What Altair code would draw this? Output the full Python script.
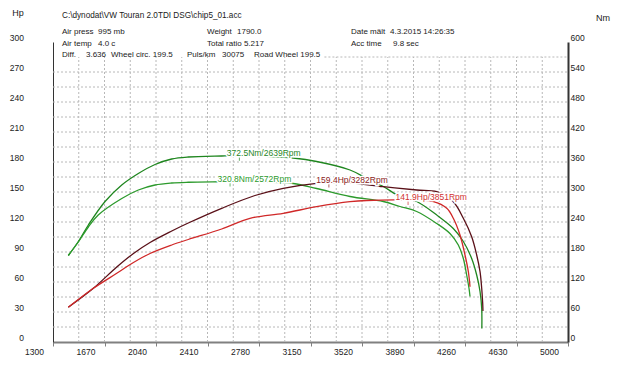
import altair as alt
import pandas as pd

# ---------------- data ----------------
# torque, run A (peak 372.5 Nm @ 2639 rpm)
rpm_tq_a = [1410, 1482, 1554, 1674, 1794, 1913, 2033, 2153, 2272, 2512, 2639, 2859, 3026,
            3194, 3434, 3554, 3673, 3793, 3913, 4057, 4176, 4248, 4308, 4344, 4368, 4380, 4381]
nm_tq_a = [173, 201, 234, 281, 314, 337, 355, 366, 370, 372, 372.5, 371, 368,
           361, 344, 327, 311, 291, 281, 254, 227, 201, 167, 134, 101, 67, 27]

# torque, run B (peak 320.8 Nm @ 2572 rpm)
rpm_tq_b = [1410, 1482, 1554, 1625, 1794, 1913, 2033, 2153, 2272, 2512, 2572, 2715, 3026,
            3194, 3434, 3673, 3793, 3913, 4057, 4152, 4212, 4248, 4272, 4289, 4296]
nm_tq_b = [173, 200, 230, 254, 287, 304, 314, 318, 319.5, 320.5, 320.8, 320, 317,
           307, 291, 281, 271, 261, 237, 217, 194, 167, 134, 107, 91]

# power, run A (peak 159.4 Hp @ 3282 rpm)
rpm_hp_a = [1410, 1590, 1758, 1878, 1997, 2153, 2272, 2512, 2751, 2954, 3194, 3282, 3434,
            3673, 3913, 4057, 4176, 4248, 4308, 4344, 4368, 4380, 4387, 4389]
hp_hp_a = [34.7, 53.7, 75, 88.5, 99.5, 111, 119, 133.7, 146.5, 153.7, 158.7, 159.4, 159.2,
           155.3, 152, 150.3, 140.3, 123.7, 105.3, 87, 70.3, 53.7, 39, 31]

# power, run B (peak 141.9 Hp @ 3851 rpm)
rpm_hp_b = [1410, 1590, 1758, 1878, 1997, 2153, 2272, 2512, 2715, 2954, 3194, 3434, 3554,
            3851, 4033, 4129, 4176, 4224, 4260, 4284, 4296]
hp_hp_b = [34.7, 53.7, 68.7, 79.5, 88.5, 97, 102.5, 113, 123.7, 128.7, 135.3, 140.3, 141.5,
           141.9, 140.3, 133.7, 123.7, 107, 87, 70.3, 55.3]

# peaks
peak_series = ["tqA", "tqB", "hpA", "hpB"]
peak_rpm = [2639, 2572, 3282, 3851]
peak_val = [372.5, 320.8, 159.4, 141.9]
peak_unit = ["Nm", "Nm", "Hp", "Hp"]

x_ticks = [1300, 1670, 2040, 2410, 2780, 3150, 3520, 3890, 4260, 4630, 5000]
hp_ticks = [0, 30, 60, 90, 120, 150, 180, 210, 240, 270, 300]
nm_ticks = [0, 60, 120, 180, 240, 300, 360, 420, 480, 540, 600]
hgrid_vals = [15, 30, 45, 60, 75, 90, 105, 120, 135, 150, 165, 180, 195, 210, 225, 240, 255, 270, 285]
vgrid_vals = [1485, 1670, 1855, 2040, 2225, 2410, 2595, 2780, 2965, 3150, 3335, 3520,
              3705, 3890, 4075, 4260, 4445, 4630, 4815]

# ---------------- styles ----------------
FONT = "Liberation Sans"
W, H = 515, 300
OX, OY = 53, 42  # plot origin on the page
line_col = {"tqA": "#1f861f", "tqB": "#2c9a2c", "hpA": "#5a1018", "hpB": "#d02828"}
text_col = {"tqA": "#1f861f", "tqB": "#2c9a2c", "hpA": "#8a1c22", "hpB": "#d03030"}

# ---------------- tables ----------------
rows = []
for s, xs, ys, is_tq in [("tqA", rpm_tq_a, nm_tq_a, True), ("tqB", rpm_tq_b, nm_tq_b, True),
                         ("hpA", rpm_hp_a, hp_hp_a, False), ("hpB", rpm_hp_b, hp_hp_b, False)]:
    for i, (r, v) in enumerate(zip(xs, ys)):
        rows.append({"series": s, "i": i, "rpm": r, "y": v / 2 if is_tq else v,
                     "col": line_col[s]})
curves = pd.DataFrame(rows)

peaks = pd.DataFrame({
    "series": peak_series,
    "rpm": peak_rpm,
    "y": [v / 2 if u == "Nm" else v for v, u in zip(peak_val, peak_unit)],
    "label": [f"{v}{u}/{r}Rpm" for v, u, r in zip(peak_val, peak_unit, peak_rpm)],
    "col": [text_col[s] for s in peak_series],
})

hgrid = pd.DataFrame({"g": hgrid_vals,
                      "xa": [1300] * (len(hgrid_vals) - 1) + [3250],
                      "xb": [5000] * len(hgrid_vals)})
vgrid = pd.DataFrame({"g": vgrid_vals, "ya": [0] * len(vgrid_vals), "yb": [285] * len(vgrid_vals)})

# ---------------- scales / axes ----------------
xscale = alt.Scale(domain=[1300, 5000], nice=False, zero=False)
yscale = alt.Scale(domain=[0, 300], nice=False)
xaxis = alt.Axis(values=x_ticks, format="d", title=None, grid=False, labelOffset=-19,
                 tickSize=4, tickColor="#808080", domainColor="#808080", domainWidth=2,
                 labelFontSize=8.5, labelFont=FONT, labelColor="#222222", labelPadding=1,
                 labelBaseline="top", labelFlush=False, labelOverlap=False)
yaxis = alt.Axis(values=hp_ticks, title=None, grid=False, ticks=False, labelPadding=29.5,
                 labelAlign="right", labelOffset=-5, domainColor="#333333", domainWidth=1,
                 labelFontSize=8.5, labelFont=FONT, labelColor="#222222",
                 labelFlush=False, labelOverlap=False)
raxis = alt.Axis(values=nm_ticks, orient="right", title=None, grid=False, ticks=False,
                 labelPadding=2, labelAlign="left", labelOffset=-5, domainColor="#333333",
                 domainWidth=2, labelFontSize=8.5, labelFont=FONT, labelColor="#222222",
                 labelFlush=False, labelOverlap=False)

X = alt.X("rpm:Q", scale=xscale, axis=xaxis)
Y = alt.Y("y:Q", scale=yscale, axis=yaxis)

grid_style = dict(strokeDash=[2, 2], color="#b8b8b8", strokeWidth=1)
h_layer = alt.Chart(hgrid).mark_rule(**grid_style).encode(
    x=alt.X("xa:Q", scale=xscale, axis=xaxis), x2="xb:Q",
    y=alt.Y("g:Q", scale=yscale, axis=yaxis))
v_layer = alt.Chart(vgrid).mark_rule(**grid_style).encode(
    x=alt.X("g:Q", scale=xscale, axis=xaxis),
    y=alt.Y("ya:Q", scale=yscale, axis=yaxis), y2="yb:Q")

lines = alt.Chart(curves).mark_line(strokeWidth=1.3, interpolate="catmull-rom").encode(
    x=X, y=Y, color=alt.Color("col:N", scale=None), detail="series:N", order="i:Q")

ticks = alt.Chart(peaks).mark_tick(orient="vertical", size=5, thickness=1, yOffset=2.5).encode(
    x=X, y=Y, color=alt.Color("col:N", scale=None))
halo = alt.Chart(peaks).mark_text(align="left", baseline="middle", dx=-12.5, dy=-3,
                                  fontSize=8.5, font=FONT, stroke="white", strokeWidth=3,
                                  fill="white").encode(x=X, y=Y, text="label:N")
labels = alt.Chart(peaks).mark_text(align="left", baseline="middle", dx=-12.5, dy=-3,
                                    fontSize=8.5, font=FONT).encode(
    x=X, y=Y, text="label:N", color=alt.Color("col:N", scale=None))

main = alt.layer(h_layer, v_layer, lines, ticks, halo, labels)

right = alt.Chart(pd.DataFrame({"rpm": rpm_tq_a, "nm": nm_tq_a})).mark_line(opacity=0).encode(
    x=X, y=alt.Y("nm:Q", scale=alt.Scale(domain=[0, 600], nice=False), axis=raxis))


def txt(s, x, y, size=8, align="left"):
    return alt.Chart(pd.DataFrame({"k": [0]})).mark_text(
        text=s, align=align, baseline="middle", fontSize=size, font=FONT, color="#1a1a1a"
    ).encode(x=alt.value(x - OX), y=alt.value(y - OY))


header = [
    txt("Hp", 18, 13, 9, "center"),
    txt("Nm", 603, 18, 9, "center"),
    txt("C:\\dynodat\\VW Touran 2.0TDI DSG\\chip5_01.acc", 62, 16, 8.2),
    txt("Air press", 62, 32), txt("995 mb", 98, 32),
    txt("Weight", 207, 32), txt("1790.0", 237, 32),
    txt("Date mält", 351, 32), txt("4.3.2015 14:26:35", 390, 32),
    txt("Air temp", 62, 44), txt("4.0 c", 98, 44),
    txt("Total ratio 5.217", 207, 44),
    txt("Acc time", 351, 44), txt("9.8 sec", 393, 44),
    txt("Diff.", 62, 55), txt("3.636", 86, 55), txt("Wheel circ. 199.5", 111, 55),
    txt("Puls/km", 187, 55), txt("30075", 222, 55), txt("Road Wheel 199.5", 254, 55),
]

chart = alt.layer(main, right, *header).resolve_scale(y="independent").properties(
    width=W, height=H,
    padding={"left": 45, "top": 34, "right": 44, "bottom": 22},
    autosize=alt.AutoSizeParams(type="none"),
    background="white",
).configure_view(stroke=None)

chart.save("out.html", embed_options={"renderer": "svg", "actions": False})
